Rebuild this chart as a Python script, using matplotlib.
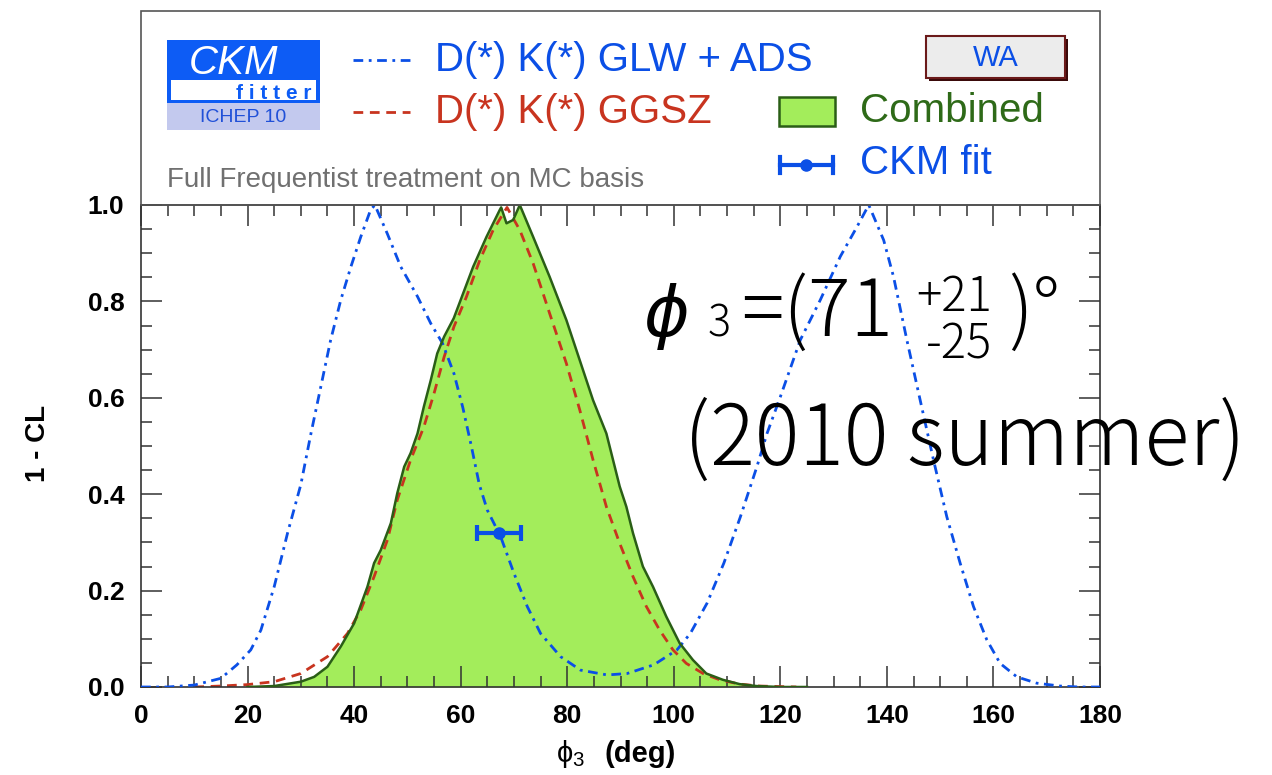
import matplotlib
matplotlib.use('Agg')
import matplotlib.pyplot as plt
from matplotlib.patches import Rectangle
from matplotlib.lines import Line2D

W, H = 1272, 775

# 1 - CL scans versus phi3 (deg)
glw_x = [0, 5, 10, 15, 18, 20.6, 22.5, 25, 27.5, 30, 31.9, 33.75, 35.6, 37.5, 39.4,
         41.25, 43.1, 43.9, 46.25, 48.75, 51.9, 54.4, 56.6, 58.75, 60.4, 62, 63.5,
         65, 67.5, 70, 72.5, 75, 78.75, 82.5, 87.5, 91.25, 96.25, 100.6, 103.1,
         106.25, 109.4, 112.5, 115.6, 117.5, 120, 123.75, 127.5, 131.25, 134.4,
         136.25, 136.6, 139.4, 141.25, 143.75, 146.25, 148.75, 151.25, 153.75,
         156.25, 158.75, 161.25, 164.4, 168.1, 172.5, 176, 180]
glw_y = [0, 0, 0.004, 0.018, 0.046, 0.077, 0.118, 0.208, 0.319, 0.42, 0.526, 0.623,
         0.72, 0.803, 0.872, 0.934, 0.99, 1.0, 0.94, 0.872, 0.81, 0.754, 0.713, 0.65,
         0.58, 0.5, 0.42, 0.367, 0.312, 0.236, 0.167, 0.111, 0.063, 0.035, 0.025,
         0.028, 0.046, 0.077, 0.111, 0.174, 0.257, 0.353, 0.457, 0.526, 0.602, 0.72,
         0.803, 0.893, 0.955, 0.993, 1.0, 0.927, 0.851, 0.72, 0.595, 0.471, 0.353,
         0.257, 0.167, 0.098, 0.049, 0.021, 0.008, 0.002, 0, 0]

ggsz_x = [10, 15, 20, 25, 30, 35, 38.75, 41.25, 43.75, 46.25, 48.1, 50.6, 53.1, 55,
          56.9, 58.75, 61.1, 63.6, 66.1, 68.7, 71.1, 73.6, 76.7, 79.85, 82.35, 84.85,
          87.35, 89.85, 92.35, 94.85, 97.35, 99.85, 102.35, 105.5, 108.6, 112.35,
          116.1, 123]
ggsz_y = [0, 0.002, 0.005, 0.011, 0.028, 0.063, 0.111, 0.16, 0.229, 0.305, 0.388,
          0.471, 0.54, 0.609, 0.685, 0.748, 0.81, 0.886, 0.948, 0.995, 0.948, 0.879,
          0.775, 0.671, 0.575, 0.471, 0.374, 0.298, 0.229, 0.167, 0.118, 0.077,
          0.049, 0.028, 0.015, 0.006, 0.002, 0]

comb_x = [20, 25, 30, 32.5, 35, 37.5, 40, 42.5, 43.75, 45, 46.9, 48.1, 49.4, 50.6,
          51.9, 53.1, 54.4, 55.6, 56.9, 58.7, 60, 62.35, 64.85, 67.35, 67.6, 68.6,
          69.85, 71.1, 73.6, 76.7, 79.85, 82.35, 84.85, 87.35, 89.85, 91.1, 92.35,
          94.2, 96.1, 98.6, 101.1, 103.6, 106.1, 109.2, 112.35, 115.5, 120, 125]
comb_y = [0, 0.002, 0.011, 0.021, 0.042, 0.084, 0.132, 0.208, 0.257, 0.284, 0.34,
          0.402, 0.457, 0.485, 0.526, 0.582, 0.637, 0.692, 0.727, 0.765, 0.803, 0.872,
          0.934, 0.99, 0.995, 0.962, 0.969, 1.0, 0.934, 0.851, 0.761, 0.678, 0.595,
          0.526, 0.416, 0.374, 0.319, 0.25, 0.208, 0.146, 0.091, 0.056, 0.028, 0.015,
          0.006, 0.002, 0, 0]

# CKM fit point
fit_phi3 = 67.2
fit_err = 4.2
fit_cl = 0.32

BLUE = '#0b4fe6'
RED = '#c8341f'
GREEN_FILL = '#a3ed5b'
GREEN_EDGE = '#2a5e16'
GREEN_TEXT = '#2e6a18'
DASHDOT = (0, (3.5, 2, 1, 2))
DASHED = (0, (3.5, 2.4))

plt.rcParams['font.family'] = ['Liberation Sans', 'DejaVu Sans']
plt.rcParams['mathtext.fontset'] = 'custom'
plt.rcParams['mathtext.rm'] = 'Liberation Sans'

fig = plt.figure(figsize=(W / 100, H / 100), dpi=100)


def fx(px):
    return px / W


def fy(py):
    return 1 - py / H


def box(x0, y0, x1, y1, **kw):
    fig.add_artist(Rectangle((fx(x0), fy(y1)), fx(x1) - fx(x0), fy(y0) - fy(y1),
                             transform=fig.transFigure, **kw))


def seg(xs, ys, **kw):
    fig.add_artist(Line2D([fx(v) for v in xs], [fy(v) for v in ys],
                          transform=fig.transFigure, **kw))


ax = fig.add_axes([fx(141), fy(687), fx(1100) - fx(141), fy(205) - fy(687)])
ax.fill_between(comb_x, comb_y, color=GREEN_FILL, lw=0, zorder=1)
ax.plot(ggsz_x, ggsz_y, color=RED, lw=2.0, ls=DASHED, zorder=2)
ax.plot(glw_x, glw_y, color=BLUE, lw=2.0, ls=DASHDOT, zorder=3)
ax.plot(comb_x, comb_y, color=GREEN_EDGE, lw=1.8, zorder=4)
ax.errorbar([fit_phi3], [fit_cl], xerr=[fit_err], fmt='o', color=BLUE, ms=8,
            elinewidth=3, capsize=5.5, capthick=3, zorder=5)

ax.set_xlim(0, 180)
ax.set_ylim(0, 1.0)
ax.set_xticks(range(0, 181, 20))
ax.set_xticks(range(0, 181, 5), minor=True)
ax.set_yticks([0, 0.2, 0.4, 0.6, 0.8, 1.0])
ax.set_yticks([i * 0.05 for i in range(21)], minor=True)
ax.set_yticklabels(['0.0', '0.2', '0.4', '0.6', '0.8', '1.0'])
ax.tick_params(which='both', direction='in', top=True, right=True, color='#333333',
               width=1.1, labelsize=19, pad=12)
ax.tick_params(which='major', length=15)
ax.tick_params(which='minor', length=8)
for lab in ax.get_xticklabels() + ax.get_yticklabels():
    lab.set_fontweight('bold')
for sp in ax.spines.values():
    sp.set_color('#333333')
    sp.set_linewidth(1.2)

fig.text(fx(38), fy(443), '1 - CL', rotation=90, ha='center', va='center',
         fontsize=20, fontweight='bold')
fig.text(fx(556), fy(762), r'$\mathregular{\phi_3}$', ha='left', va='baseline',
         fontsize=21)
fig.text(fx(604), fy(762), '(deg)', ha='left', va='baseline', fontsize=21,
         fontweight='bold')

# header panel above the plot
box(141, 11, 1100, 205, fill=False, ec='#555555', lw=1.2)

# logo
box(167, 40, 320, 103, fc='#0d5cf5', ec='none')
box(171, 80, 316, 100, fc='white', ec='none')
box(167, 103, 320, 130, fc='#c3c9ee', ec='none')
fig.text(fx(189), fy(74), 'CKM', color='white', fontsize=29, style='italic',
         ha='left', va='baseline')
fig.text(fx(312), fy(99), 'f i t t e r', color='#0d5cf5', fontsize=15,
         fontweight='bold', ha='right', va='baseline')
fig.text(fx(243), fy(117), 'ICHEP 10', color='#2050d8', fontsize=14,
         ha='center', va='center')

# legend
seg([353, 410], [60, 60], color=BLUE, lw=2.0, ls=DASHDOT)
fig.text(fx(435), fy(60), 'D(*) K(*) GLW + ADS', color=BLUE, fontsize=29,
         ha='left', va='center')
seg([353, 410], [112, 112], color=RED, lw=2.0, ls=DASHED)
fig.text(fx(435), fy(112), 'D(*) K(*) GGSZ', color=RED, fontsize=29,
         ha='left', va='center')
box(779, 97, 835, 126, fc=GREEN_FILL, ec=GREEN_EDGE, lw=1.8)
fig.text(fx(860), fy(111), 'Combined', color=GREEN_TEXT, fontsize=29,
         ha='left', va='center')
seg([780, 833], [165, 165], color=BLUE, lw=3)
seg([780, 780], [157, 173], color=BLUE, lw=3)
seg([833, 833], [157, 173], color=BLUE, lw=3)
seg([806], [165], color=BLUE, marker='o', ms=8, ls='none')
fig.text(fx(860), fy(163), 'CKM fit', color=BLUE, fontsize=29,
         ha='left', va='center')
box(929, 39, 1068, 81, fc='#3a0a0a', ec='none')
box(926, 36, 1065, 78, fc='#ececec', ec='#6b1a1a', lw=1.5)
fig.text(fx(996), fy(58), 'WA', color=BLUE, fontsize=21, ha='center', va='center')
fig.text(fx(167), fy(180), 'Full Frequentist treatment on MC basis', color='#707070',
         fontsize=20, ha='left', va='center')

# result annotation
jp = ['Noto Sans CJK JP', 'DejaVu Sans']
fig.text(fx(643), fy(336), 'ϕ', family=['DejaVu Sans'], fontsize=50,
         style='italic', ha='left', va='baseline')
fig.text(fx(708), fy(336), '3', family=jp, fontsize=31, fontweight='light',
         ha='left', va='baseline')
fig.text(fx(741), fy(336), '=(71', family=jp, fontsize=57, fontweight='light',
         ha='left', va='baseline')
fig.text(fx(916), fy(311), '+21', family=jp, fontsize=34, fontweight='light',
         ha='left', va='baseline')
fig.text(fx(926), fy(359), '-25', family=jp, fontsize=34, fontweight='light',
         ha='left', va='baseline')
fig.text(fx(1008), fy(336), ')°', family=jp, fontsize=56, fontweight='light',
         ha='left', va='baseline')
fig.text(fx(684), fy(465), '(2010 summer)', family=jp, fontsize=60,
         fontweight='light', ha='left', va='baseline')

fig.savefig('out.png', dpi=100)
